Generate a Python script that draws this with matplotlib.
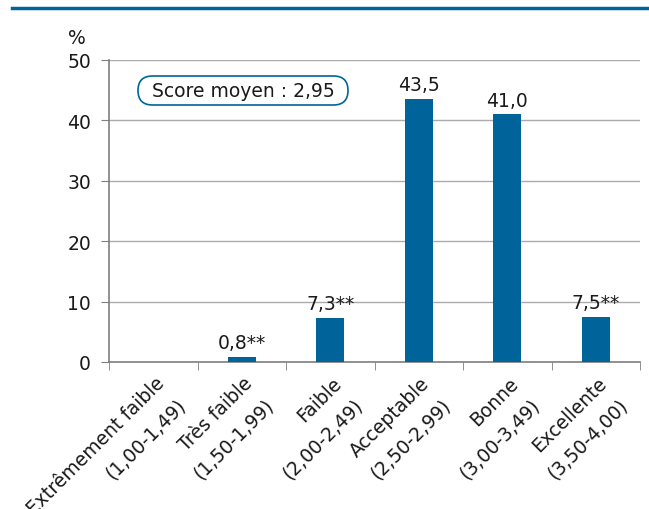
import matplotlib.pyplot as plt
import matplotlib.transforms as mtransforms
from matplotlib.patches import FancyBboxPatch

# data
categories = ['Extrêmement faible\n(1,00-1,49)', 'Très faible\n(1,50-1,99)',
              'Faible\n(2,00-2,49)', 'Acceptable\n(2,50-2,99)',
              'Bonne\n(3,00-3,49)', 'Excellente\n(3,50-4,00)']
values = [0, 0.8, 7.3, 43.5, 41.0, 7.5]
value_labels = ['', '0,8**', '7,3**', '43,5', '41,0', '7,5**']
yticks = [0, 10, 20, 30, 40, 50]
score_text = 'Score moyen : 2,95'

blue = '#00649a'
grid_grey = '#ababab'
axis_grey = '#7f7f7f'
txt = '#1a1a1a'
fs = 13.5

plt.rcParams['font.family'] = ['DejaVu Sans']

fig = plt.figure(figsize=(6.49, 5.10), dpi=100)
ax = fig.add_axes([109 / 649, 1 - 363 / 510, 531 / 649, 302 / 510])

x = list(range(len(categories)))
ax.bar(x, values, width=0.32, color=blue, zorder=3)

for xi, v, lab in zip(x, values, value_labels):
    if lab:
        ax.text(xi, v + 0.8, lab, ha='center', va='bottom', fontsize=fs,
                color=txt)

ax.set_xlim(-0.5, len(categories) - 0.5)
ax.set_ylim(0, 50)
ax.set_yticks(yticks)
ax.set_yticklabels([str(t) for t in yticks], fontsize=fs, color=txt)
ax.yaxis.grid(True, color=grid_grey, lw=1, zorder=0)
ax.tick_params(axis='y', length=6, color=axis_grey, pad=7)

# boundary ticks on the x axis
ax.set_xticks([i - 0.5 for i in range(len(categories) + 1)], minor=True)
ax.tick_params(axis='x', which='minor', length=6, color=axis_grey)
ax.set_xticks(x)
ax.set_xticklabels(categories, rotation=45, ha='right', va='top',
                   multialignment='right', fontsize=fs, color=txt,
                   linespacing=1.75)
ax.tick_params(axis='x', which='major', length=0, pad=8)
offset = mtransforms.ScaledTranslation(36 / 100, 0, fig.dpi_scale_trans)
for lbl in ax.get_xticklabels():
    lbl.set_transform(lbl.get_transform() + offset)

for s in ['top', 'right']:
    ax.spines[s].set_visible(False)
for s in ['left', 'bottom']:
    ax.spines[s].set_color(axis_grey)
    ax.spines[s].set_linewidth(1.2)

ax.text(-0.06, 1.075, '%', transform=ax.transAxes, ha='center', va='center',
        fontsize=fs, color=txt)

# score box (pill shape), placed in figure inches
box = FancyBboxPatch((1.38, 4.04), 2.10, 0.29,
                     boxstyle='round,pad=0,rounding_size=0.145',
                     fc='white', ec=blue, lw=1.2,
                     transform=fig.dpi_scale_trans, zorder=5)
fig.add_artist(box)
fig.text(2.43, 4.133, score_text, transform=fig.dpi_scale_trans,
         ha='center', va='baseline', fontsize=fs, color=txt, zorder=6)

# top rule
fig.add_artist(plt.Line2D([12 / 649, 1], [1 - 9 / 510, 1 - 9 / 510],
                          color=blue, lw=2.5, transform=fig.transFigure))

fig.savefig('out.png', dpi=100)
